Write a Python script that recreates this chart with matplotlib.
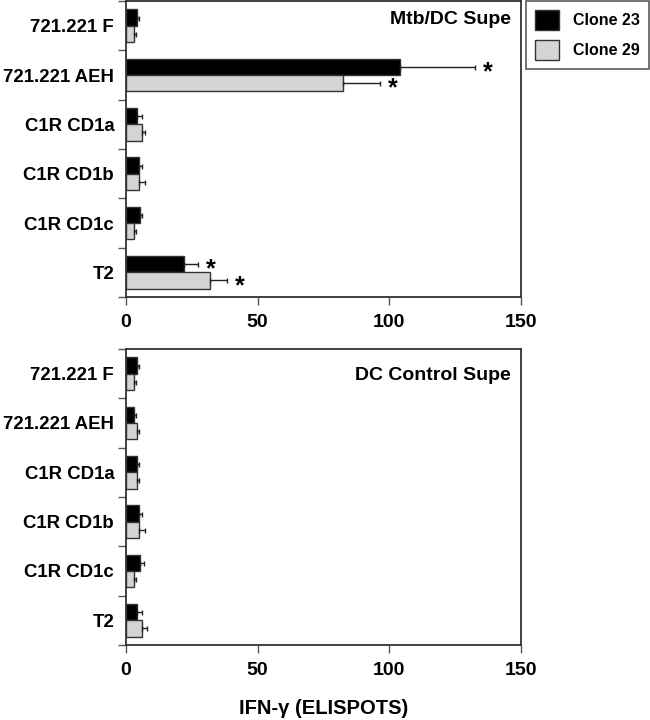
import numpy as np
import matplotlib
matplotlib.use("Agg")
import matplotlib.pyplot as plt
from matplotlib.patches import Patch

plt.rcParams['font.family'] = ['Liberation Sans', 'DejaVu Sans']
plt.rcParams['font.weight'] = 'bold'

categories = ["721.221 F", "721.221 AEH", "C1R CD1a", "C1R CD1b", "C1R CD1c", "T2"]
series_names = ["Clone 23", "Clone 29"]

# Mtb/DC Supe panel
mtb_c23 = [4.2, 104.3, 4.2, 5.1, 5.2, 22.2]
mtb_c23_err = [0.8, 28.2, 2.0, 1.0, 0.9, 5.1]
mtb_c29 = [3.0, 82.3, 6.2, 5.1, 3.0, 32.1]
mtb_c29_err = [1.0, 14.1, 0.9, 2.1, 1.0, 6.2]
mtb_sig_c23 = [False, True, False, False, False, True]
mtb_sig_c29 = [False, True, False, False, False, True]

# DC Control Supe panel
ctl_c23 = [4.2, 3.2, 4.2, 5.1, 5.2, 4.2]
ctl_c23_err = [0.8, 0.8, 0.8, 1.1, 1.8, 2.0]
ctl_c29 = [3.0, 4.1, 4.1, 5.1, 3.0, 6.2]
ctl_c29_err = [1.0, 0.7, 0.9, 2.1, 1.0, 1.9]

panel_titles = ["Mtb/DC Supe", "DC Control Supe"]
xticks = [0, 50, 100, 150]
xlabel = "IFN-\u03b3 (ELISPOTS)"

colors = ["#000000", "#d4d4d4"]
edge = "#333333"

fig = plt.figure(figsize=(6.5, 7.2), dpi=100)
ax_top = fig.add_axes([0.1938, 0.5875, 0.6072, 0.4111])
ax_bot = fig.add_axes([0.1938, 0.1042, 0.6072, 0.4111])

def draw(ax, c23, e23, c29, e29, title, title_y, sig23=None, sig29=None):
    y = np.arange(len(categories))
    h = 0.33
    ekw = dict(ecolor="#222222", elinewidth=1.0, capsize=1.8, capthick=1.0)
    ax.barh(y - h / 2, c23, height=h, color=colors[0], edgecolor=edge, linewidth=1.0,
            xerr=[np.zeros(len(c23)), e23], error_kw=ekw, zorder=2)
    ax.barh(y + h / 2, c29, height=h, color=colors[1], edgecolor=edge, linewidth=1.0,
            xerr=[np.zeros(len(c29)), e29], error_kw=ekw, zorder=2)
    if sig23 is not None:
        for i, s in enumerate(sig23):
            if s:
                ax.annotate("*", xy=(c23[i] + e23[i], y[i] - h / 2), xytext=(9.5, -4),
                            textcoords="offset points", ha="center", va="center",
                            fontsize=18, fontweight="bold")
    if sig29 is not None:
        for i, s in enumerate(sig29):
            if s:
                ax.annotate("*", xy=(c29[i] + e29[i], y[i] + h / 2), xytext=(9.5, -4),
                            textcoords="offset points", ha="center", va="center",
                            fontsize=18, fontweight="bold")
    ax.set_xlim(0, 150)
    ax.set_ylim(len(categories) - 0.5, -0.5)
    ax.set_xticks(xticks)
    ax.set_xticklabels([str(t) for t in xticks], fontsize=14, fontweight="bold")
    ax.set_yticks(y)
    ax.set_yticklabels(categories, fontsize=13.4, fontweight="bold")
    ax.set_yticks(np.arange(len(categories) + 1) - 0.5, minor=True)
    ax.tick_params(axis="y", which="major", length=0, pad=8.5)
    ax.tick_params(axis="y", which="minor", length=6, width=1.0, color="#555555", direction="out")
    ax.tick_params(axis="x", which="major", length=6, width=1.0, color="#555555", direction="out", pad=6)
    for sp in ax.spines.values():
        sp.set_linewidth(1.3)
        sp.set_color("#333333")
    ax.text(0.975, title_y, title, transform=ax.transAxes, ha="right", va="center",
            fontsize=14, fontweight="bold")

draw(ax_top, mtb_c23, mtb_c23_err, mtb_c29, mtb_c29_err, panel_titles[0], 0.937,
     mtb_sig_c23, mtb_sig_c29)
draw(ax_bot, ctl_c23, ctl_c23_err, ctl_c29, ctl_c29_err, panel_titles[1], 0.912)
ax_bot.set_xlabel(xlabel, fontsize=14.5, fontweight="bold", labelpad=15)

handles = [Patch(facecolor=colors[0], edgecolor=edge, linewidth=1.0, label=series_names[0]),
           Patch(facecolor=colors[1], edgecolor=edge, linewidth=1.0, label=series_names[1])]
leg = fig.legend(handles=handles, loc="upper left", bbox_to_anchor=(0.809, 0.999),
                 fontsize=11.5, handlelength=1.5, handleheight=1.6, handletextpad=0.9,
                 borderpad=0.55, labelspacing=0.6, fancybox=False, frameon=True,
                 borderaxespad=0.0)
leg.get_frame().set_edgecolor("#333333")
leg.get_frame().set_linewidth(1.2)
for t in leg.get_texts():
    t.set_fontweight("bold")

fig.savefig("out.png", dpi=100)
